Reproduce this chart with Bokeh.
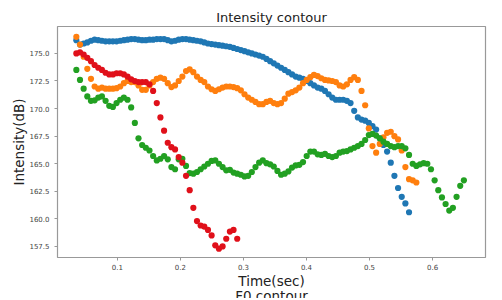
from bokeh.plotting import figure
from bokeh.models import Range1d, FixedTicker, PrintfTickFormatter, Title
from bokeh.embed import file_html
from bokeh.resources import INLINE

# ---- data ----
time_sec = [
    0.0349, 0.0407, 0.0465, 0.0523, 0.0581, 0.0639, 0.0697, 0.0755, 0.0813, 0.0871,
    0.0929, 0.0987, 0.1045, 0.1103, 0.1161, 0.1219, 0.1277, 0.1335, 0.1393, 0.1451,
    0.1509, 0.1567, 0.1625, 0.1683, 0.1741, 0.1799, 0.1857, 0.1915, 0.1973, 0.2031,
    0.2089, 0.2147, 0.2205, 0.2263, 0.2321, 0.2379, 0.2437, 0.2495, 0.2553, 0.2611,
    0.2669, 0.2727, 0.2785, 0.2843, 0.2901, 0.2959, 0.3017, 0.3075, 0.3133, 0.3191,
    0.3249, 0.3307, 0.3365, 0.3423, 0.3481, 0.3539, 0.3597, 0.3655, 0.3713, 0.3771,
    0.3829, 0.3887, 0.3945, 0.4003, 0.4061, 0.4119, 0.4177, 0.4235, 0.4293, 0.4351,
    0.4409, 0.4467, 0.4525, 0.4583, 0.4641, 0.4699, 0.4757, 0.4815, 0.4873, 0.4931,
    0.4989, 0.5047, 0.5105, 0.5163, 0.5221, 0.5279, 0.5337, 0.5395, 0.5453, 0.5511,
    0.5569, 0.5627, 0.5685, 0.5743, 0.5801, 0.5859, 0.5917, 0.5975, 0.6033, 0.6091,
    0.6149, 0.6207, 0.6265, 0.6323, 0.6381, 0.6439, 0.6497,
]

blue_db = [
    176.2, 175.8, 175.9, 176.0, 176.15, 176.25, 176.2, 176.15, 176.1, 176.1,
    176.1, 176.1, 176.15, 176.2, 176.25, 176.3, 176.3, 176.25, 176.2, 176.2,
    176.25, 176.25, 176.3, 176.3, 176.3, 176.2, 176.1, 176.15, 176.25, 176.3,
    176.3, 176.25, 176.2, 176.15, 176.1, 176.0, 175.9, 175.85, 175.8, 175.75,
    175.7, 175.65, 175.6, 175.5, 175.4, 175.3, 175.2, 175.1, 175.0, 174.9,
    174.8, 174.7, 174.5, 174.3, 174.1, 173.9, 173.7, 173.5, 173.3, 173.1,
    172.9, 172.8, 172.7, 172.5, 172.3, 172.1, 171.9, 171.8, 171.6, 171.3,
    171.0, 170.8, 170.8, 170.8, 170.7, 170.5, 169.8, 169.2, 169.0, 168.9,
    168.7, 168.4, 168.1, 167.3, 166.7, 166.1, 165.1, 163.9, 162.8, 162.0,
    161.4, 160.6,
]

orange_db = [
    176.5, 175.8, 174.7, 173.6, 172.7, 172.0, 171.8, 171.9, 171.8, 171.8,
    171.8, 171.85, 172.0, 172.3, 172.5, 172.4, 172.4, 172.1, 171.7, 171.7,
    172.1, 172.4, 172.7, 172.8, 172.7, 172.3, 171.95, 172.1, 172.5, 172.9,
    173.4, 173.55, 173.3, 172.9, 172.6, 172.4, 172.0, 171.75, 171.6, 171.75,
    171.9, 172.0, 172.0, 171.95, 171.85, 171.65, 171.3, 171.0, 170.8, 170.6,
    170.4, 170.4, 170.6, 170.7, 170.5, 170.4, 170.5, 170.9, 171.35, 171.5,
    171.65, 171.9, 172.3, 172.6, 172.85, 173.05, 172.95, 172.75, 172.6, 172.55,
    172.5, 172.4, 172.1, 172.0, 172.2, 172.6, 172.85, 172.6, 171.6, 170.3,
    168.2, 166.6, 166.0, 166.8, 167.4, 167.8, 167.9, 167.5, 167.2, 166.2,
    164.7, 163.6, 163.5, 163.3,
]

green_db = [
    173.5, 172.6, 171.8, 171.1, 170.7, 170.75, 171.0, 171.1, 170.7, 170.25,
    170.15, 170.5, 170.8, 171.0, 170.8, 170.1, 168.7, 167.3, 166.7, 166.45,
    166.2, 165.7, 165.3, 165.45, 165.7, 165.4, 164.7, 164.5, 165.4, 165.45,
    164.8, 164.15, 164.1, 164.25, 164.5, 164.75, 165.0, 165.25, 165.3, 165.0,
    164.7, 164.4, 164.45, 164.2, 164.1, 164.0, 163.85, 163.9, 164.25, 164.7,
    165.1, 165.3, 165.05, 164.95, 164.75, 164.35, 164.0, 164.1, 164.3, 164.65,
    164.85, 164.9, 165.15, 165.7, 166.1, 166.1, 165.85, 165.8, 165.9, 165.7,
    165.6, 165.7, 166.0, 166.1, 166.15, 166.3, 166.45, 166.6, 166.8, 167.15,
    167.6, 167.7, 167.55, 167.3, 167.0, 166.8, 166.6, 166.5, 166.6, 166.6,
    166.4, 165.8, 165.0, 164.8, 164.95, 165.05, 165.0, 164.5, 163.5, 162.6,
    161.95, 161.35, 160.75, 161.0, 162.0, 163.0, 163.5,
]

red_db = [
    175.0, 175.1, 174.9, 174.6, 174.3, 173.95, 173.7, 173.5, 173.25, 173.1,
    173.1, 173.2, 173.2, 173.1, 172.9, 172.65, 172.5, 172.4, 172.4, 172.4,
    172.2, 171.6, 170.5, 169.2, 168.0, 166.9, 166.5, 166.3, 165.6, 165.1,
    163.9, 162.6, 161.0, 159.8, 159.4, 159.3, 159.0, 158.5, 157.6, 157.3,
    157.5, 158.2, 158.85, 159.0, 158.2,
]

x_ticks = [0.1, 0.2, 0.3, 0.4, 0.5, 0.6]
y_ticks = [157.5, 160.0, 162.5, 165.0, 167.5, 170.0, 172.5, 175.0]

series = [
    (blue_db, "#1f77b4"),
    (orange_db, "#ff7f0e"),
    (green_db, "#22a022"),
    (red_db, "#e0101a"),
]

FONT = "DejaVu Sans"

p = figure(
    width=494, height=298, output_backend="svg", toolbar_location=None,
    x_range=Range1d(0.005, 0.684), y_range=Range1d(156.5, 177.44),
    title="Intensity contour",
    min_border_left=57, min_border_right=9, min_border_top=26, min_border_bottom=40,
    background_fill_color="white", border_fill_color="white",
)

p.title.align = "center"
p.title.text_font = FONT
p.title.text_font_size = "13px"
p.title.text_font_style = "normal"
p.title.text_color = "#222222"
p.title.standoff = 4
p.title.offset = 0

p.xgrid.visible = False
p.ygrid.visible = False
p.outline_line_color = "#999999"
p.outline_line_width = 1.2

for ax in (p.xaxis[0], p.yaxis[0]):
    ax.axis_line_color = None
    ax.minor_tick_line_color = None
    ax.major_tick_in = 0
    ax.major_tick_out = 3
    ax.major_tick_line_color = "#999999"
    ax.major_label_text_font = FONT
    ax.major_label_text_font_size = "7px"
    ax.major_label_text_color = "#444444"
    ax.axis_label_text_font = FONT
    ax.axis_label_text_font_size = "13.5px"
    ax.axis_label_text_font_style = "normal"
    ax.axis_label_text_color = "#222222"
    ax.formatter = PrintfTickFormatter(format="%.1f")

p.xaxis.ticker = FixedTicker(ticks=x_ticks)
p.yaxis.ticker = FixedTicker(ticks=y_ticks)
p.xaxis.axis_label = "Time(sec)"
p.yaxis.axis_label = "Intensity(dB)"
p.xaxis.major_label_standoff = 3
p.yaxis.major_label_standoff = 5
p.xaxis.axis_label_standoff = 0
p.yaxis.axis_label_standoff = -1

for vals, col in series:
    p.scatter(time_sec[:len(vals)], vals, size=6.2, fill_color=col, line_color=None)

# title of the next subplot, cut by the window's lower edge in the reference
p.add_layout(Title(text="F0 contour", align="center", text_font=FONT,
                   text_font_size="13.5px", text_font_style="normal",
                   text_color="#222222", standoff=-11), "below")

open("out.html", "w").write(file_html(p, INLINE))
